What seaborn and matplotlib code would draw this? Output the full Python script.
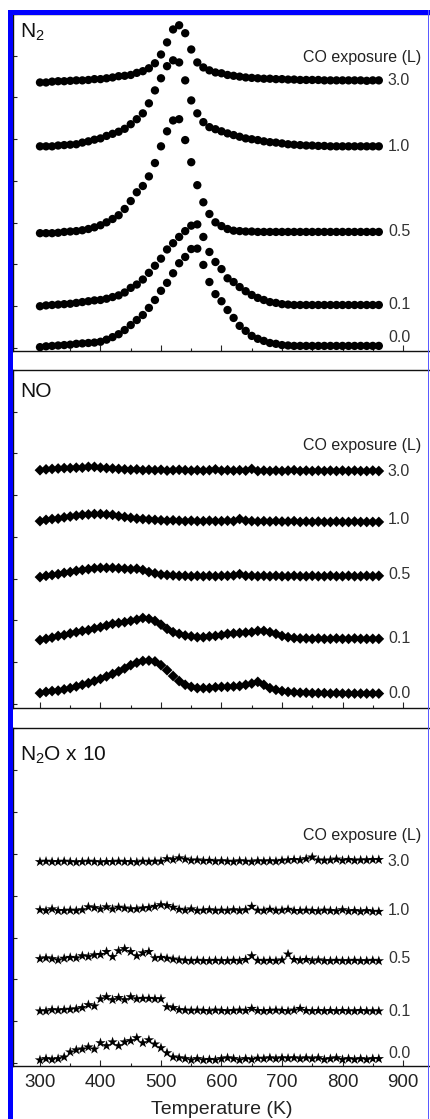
import numpy as np
import pandas as pd
import matplotlib
matplotlib.use("Agg")
import matplotlib.pyplot as plt
from matplotlib.patches import Rectangle
import seaborn as sns

# ---------------- data ----------------
temperature = np.arange(300, 861, 10)  # K
exposures = ["0.0", "0.1", "0.5", "1.0", "3.0"]

n2_00 = [0.02, 0.04, 0.05, 0.06, 0.07, 0.08, 0.10, 0.11, 0.12, 0.13,
         0.15, 0.20, 0.26, 0.33, 0.43, 0.55, 0.67, 0.79, 0.96, 1.15,
         1.37, 1.56, 1.79, 2.03, 2.18, 2.37, 2.38, 1.99, 1.58, 1.29,
         1.12, 0.91, 0.72, 0.53, 0.41, 0.29, 0.22, 0.17, 0.12, 0.10,
         0.07, 0.06, 0.05, 0.05, 0.05, 0.05, 0.05, 0.05, 0.05, 0.05,
         0.05, 0.05, 0.05, 0.05, 0.05, 0.05, 0.05]
n2_01 = [1.00, 1.02, 1.03, 1.04, 1.05, 1.06, 1.08, 1.10, 1.12, 1.14,
         1.15, 1.18, 1.22, 1.26, 1.33, 1.44, 1.52, 1.64, 1.80, 1.97,
         2.14, 2.36, 2.51, 2.66, 2.80, 2.93, 2.96, 2.66, 2.30, 2.06,
         1.89, 1.67, 1.58, 1.46, 1.36, 1.27, 1.20, 1.15, 1.10, 1.08,
         1.05, 1.04, 1.03, 1.03, 1.03, 1.03, 1.03, 1.03, 1.03, 1.03,
         1.03, 1.03, 1.03, 1.03, 1.03, 1.03, 1.03]
n2_05 = [2.75, 2.75, 2.75, 2.76, 2.78, 2.79, 2.80, 2.82, 2.85, 2.89,
         2.94, 3.01, 3.09, 3.18, 3.33, 3.52, 3.73, 3.88, 4.11, 4.43,
         4.83, 5.19, 5.45, 5.48, 4.98, 4.45, 3.90, 3.49, 3.21, 3.01,
         2.92, 2.85, 2.81, 2.80, 2.79, 2.79, 2.78, 2.78, 2.78, 2.78,
         2.78, 2.78, 2.78, 2.78, 2.78, 2.78, 2.78, 2.78, 2.78, 2.78,
         2.78, 2.78, 2.78, 2.78, 2.78, 2.78, 2.78]
n2_10 = [4.83, 4.83, 4.83, 4.85, 4.86, 4.87, 4.88, 4.92, 4.95, 4.99,
         5.02, 5.08, 5.13, 5.18, 5.25, 5.36, 5.48, 5.62, 5.86, 6.17,
         6.46, 6.75, 6.89, 6.84, 6.41, 5.93, 5.62, 5.41, 5.29, 5.24,
         5.19, 5.14, 5.10, 5.06, 5.02, 5.00, 4.98, 4.95, 4.93, 4.92,
         4.90, 4.88, 4.87, 4.86, 4.85, 4.85, 4.84, 4.84, 4.83, 4.83,
         4.83, 4.83, 4.83, 4.83, 4.83, 4.83, 4.83]
n2_30 = [6.36, 6.36, 6.38, 6.39, 6.39, 6.40, 6.41, 6.41, 6.42, 6.44,
         6.44, 6.46, 6.48, 6.51, 6.52, 6.54, 6.59, 6.63, 6.70, 6.82,
         7.03, 7.32, 7.63, 7.73, 7.54, 7.15, 6.84, 6.72, 6.65, 6.60,
         6.58, 6.54, 6.52, 6.50, 6.48, 6.47, 6.46, 6.45, 6.45, 6.44,
         6.44, 6.43, 6.43, 6.42, 6.42, 6.42, 6.42, 6.41, 6.41, 6.41,
         6.41, 6.41, 6.41, 6.41, 6.40, 6.41, 6.41]

no_00 = [0.26, 0.29, 0.31, 0.32, 0.35, 0.38, 0.42, 0.46, 0.50, 0.55,
         0.60, 0.66, 0.72, 0.78, 0.85, 0.93, 0.99, 1.03, 1.04, 1.02,
         0.93, 0.81, 0.67, 0.55, 0.46, 0.41, 0.38, 0.38, 0.38, 0.40,
         0.41, 0.41, 0.42, 0.43, 0.46, 0.49, 0.53, 0.46, 0.38, 0.34,
         0.31, 0.29, 0.28, 0.27, 0.27, 0.26, 0.26, 0.26, 0.25, 0.26,
         0.25, 0.25, 0.25, 0.25, 0.25, 0.25, 0.25]
no_01 = [1.53, 1.56, 1.59, 1.63, 1.65, 1.69, 1.72, 1.75, 1.77, 1.81,
         1.84, 1.88, 1.92, 1.94, 1.96, 1.99, 2.02, 2.06, 2.04, 1.99,
         1.90, 1.80, 1.72, 1.68, 1.64, 1.62, 1.60, 1.60, 1.62, 1.63,
         1.65, 1.68, 1.69, 1.70, 1.71, 1.72, 1.75, 1.75, 1.72, 1.68,
         1.63, 1.60, 1.58, 1.57, 1.57, 1.56, 1.57, 1.56, 1.56, 1.57,
         1.56, 1.56, 1.57, 1.56, 1.56, 1.56, 1.56]
no_05 = [3.04, 3.07, 3.09, 3.11, 3.14, 3.16, 3.19, 3.21, 3.23, 3.25,
         3.26, 3.26, 3.26, 3.25, 3.24, 3.23, 3.24, 3.21, 3.16, 3.13,
         3.10, 3.09, 3.08, 3.07, 3.07, 3.06, 3.07, 3.06, 3.07, 3.06,
         3.07, 3.07, 3.08, 3.11, 3.07, 3.07, 3.06, 3.07, 3.06, 3.07,
         3.06, 3.06, 3.07, 3.06, 3.06, 3.07, 3.06, 3.06, 3.07, 3.06,
         3.06, 3.07, 3.06, 3.06, 3.07, 3.06, 3.07]
no_10 = [4.38, 4.41, 4.43, 4.44, 4.47, 4.49, 4.51, 4.53, 4.54, 4.55,
         4.55, 4.54, 4.53, 4.50, 4.48, 4.46, 4.44, 4.43, 4.42, 4.41,
         4.40, 4.39, 4.40, 4.39, 4.38, 4.39, 4.38, 4.38, 4.39, 4.38,
         4.38, 4.39, 4.38, 4.43, 4.39, 4.38, 4.37, 4.38, 4.37, 4.38,
         4.37, 4.37, 4.38, 4.36, 4.37, 4.36, 4.37, 4.36, 4.36, 4.37,
         4.36, 4.36, 4.37, 4.36, 4.36, 4.36, 4.36]
no_30 = [5.60, 5.62, 5.63, 5.64, 5.65, 5.65, 5.66, 5.66, 5.68, 5.68,
         5.66, 5.65, 5.64, 5.63, 5.62, 5.61, 5.62, 5.60, 5.61, 5.60,
         5.61, 5.59, 5.60, 5.61, 5.60, 5.59, 5.60, 5.59, 5.60, 5.62,
         5.59, 5.60, 5.59, 5.60, 5.59, 5.63, 5.58, 5.59, 5.58, 5.59,
         5.58, 5.59, 5.60, 5.58, 5.59, 5.58, 5.59, 5.58, 5.59, 5.58,
         5.59, 5.58, 5.59, 5.58, 5.58, 5.59, 5.58]

n2o_00 = [0.07, 0.10, 0.08, 0.10, 0.14, 0.26, 0.31, 0.33, 0.38, 0.33,
          0.48, 0.41, 0.50, 0.41, 0.50, 0.53, 0.60, 0.48, 0.55, 0.45,
          0.36, 0.24, 0.14, 0.12, 0.10, 0.07, 0.10, 0.07, 0.08, 0.07,
          0.10, 0.12, 0.10, 0.07, 0.10, 0.08, 0.11, 0.10, 0.12, 0.10,
          0.12, 0.11, 0.12, 0.10, 0.12, 0.10, 0.12, 0.08, 0.10, 0.12,
          0.08, 0.10, 0.08, 0.10, 0.08, 0.10, 0.10]
n2o_01 = [1.24, 1.24, 1.27, 1.26, 1.27, 1.28, 1.29, 1.32, 1.39, 1.36,
          1.53, 1.58, 1.51, 1.56, 1.51, 1.58, 1.53, 1.54, 1.54, 1.53,
          1.53, 1.34, 1.32, 1.27, 1.26, 1.25, 1.26, 1.25, 1.24, 1.26,
          1.25, 1.24, 1.25, 1.26, 1.25, 1.30, 1.25, 1.24, 1.25, 1.26,
          1.25, 1.24, 1.26, 1.30, 1.25, 1.24, 1.25, 1.24, 1.25, 1.24,
          1.25, 1.24, 1.24, 1.25, 1.24, 1.24, 1.24]
n2o_05 = [2.49, 2.51, 2.49, 2.46, 2.50, 2.52, 2.51, 2.56, 2.54, 2.58,
          2.59, 2.66, 2.54, 2.68, 2.73, 2.66, 2.56, 2.63, 2.66, 2.51,
          2.52, 2.50, 2.48, 2.46, 2.45, 2.44, 2.45, 2.44, 2.44, 2.45,
          2.44, 2.44, 2.45, 2.44, 2.47, 2.56, 2.45, 2.44, 2.45, 2.44,
          2.46, 2.60, 2.47, 2.45, 2.47, 2.44, 2.46, 2.44, 2.44, 2.45,
          2.44, 2.44, 2.45, 2.44, 2.44, 2.45, 2.44]
n2o_10 = [3.66, 3.64, 3.68, 3.64, 3.64, 3.65, 3.64, 3.66, 3.73, 3.71,
          3.68, 3.73, 3.68, 3.72, 3.70, 3.68, 3.68, 3.70, 3.71, 3.74,
          3.78, 3.76, 3.72, 3.67, 3.65, 3.68, 3.64, 3.65, 3.66, 3.64,
          3.65, 3.64, 3.66, 3.64, 3.66, 3.74, 3.65, 3.64, 3.67, 3.64,
          3.65, 3.67, 3.64, 3.64, 3.65, 3.64, 3.63, 3.65, 3.64, 3.63,
          3.66, 3.63, 3.64, 3.62, 3.64, 3.62, 3.62]
n2o_30 = [4.81, 4.82, 4.81, 4.81, 4.82, 4.81, 4.80, 4.81, 4.82, 4.81,
          4.80, 4.81, 4.81, 4.82, 4.81, 4.81, 4.80, 4.82, 4.81, 4.82,
          4.82, 4.88, 4.86, 4.90, 4.87, 4.84, 4.85, 4.83, 4.84, 4.82,
          4.83, 4.82, 4.81, 4.83, 4.82, 4.81, 4.83, 4.82, 4.83, 4.82,
          4.84, 4.85, 4.86, 4.85, 4.88, 4.92, 4.85, 4.84, 4.85, 4.87,
          4.84, 4.86, 4.84, 4.85, 4.85, 4.86, 4.86]

# label positions for the exposure numbers (value units of each panel)
n2_label_y = [0.26, 1.03, 2.78, 4.83, 6.41]
no_label_y = [0.26, 1.58, 3.09, 4.43, 5.58]
n2o_label_y = [0.22, 1.24, 2.49, 3.64, 4.81]

panel_titles = ["N$_2$", "NO", "N$_2$O x 10"]
xticks_major = [300, 400, 500, 600, 700, 800, 900]
xticks_minor = [350, 450, 550, 650, 750, 850]

# ---------------- style ----------------
sns.set_style("ticks")
plt.rcParams["font.family"] = ["Liberation Sans", "DejaVu Sans"]
plt.rcParams["mathtext.default"] = "regular"

W, H = 430, 1119
fig = plt.figure(figsize=(W / 100, H / 100), dpi=100)

def fx(px):
    return px / W

def fy(py):
    return 1 - py / H

left = 13
right = 430
panels_px = [(14, 351), (370, 708), (728, 1066)]
ylims = [(-0.072, 7.99), (-0.096, 8.0), (-0.072, 8.01)]
xlim = (255.4, 944.6)

datasets = [
    ([n2_00, n2_01, n2_05, n2_10, n2_30], "o", 36, n2_label_y),
    ([no_00, no_01, no_05, no_10, no_30], "D", 30, no_label_y),
    ([n2o_00, n2o_01, n2o_05, n2o_10, n2o_30], "*", 62, n2o_label_y),
]
co_label_y = [6.96, 6.20, 5.45]
title_top = [0.976, 0.964, 0.952]

axes = []
for i, ((top, bot), (series, mk, size, lab_y)) in enumerate(zip(panels_px, datasets)):
    ax = fig.add_axes([fx(left), fy(bot), fx(right - left), (bot - top) / H])
    axes.append(ax)
    frames = []
    for exp, vals in zip(exposures, series):
        frames.append(pd.DataFrame({"T": temperature, "v": vals, "exposure": exp}))
    df = pd.concat(frames, ignore_index=True)
    sns.scatterplot(data=df, x="T", y="v", hue="exposure",
                    palette=["black"] * len(exposures), marker=mk, s=size,
                    edgecolor="none", linewidth=0, legend=False, ax=ax)
    ax.set_xlim(*xlim)
    ax.set_ylim(*ylims[i])
    ax.set_xticks(xticks_major)
    ax.set_xticks(xticks_minor, minor=True)
    ax.set_yticks(range(0, 9))
    ax.set_yticklabels([])
    ax.tick_params(axis="both", which="both", direction="in", top=False, right=False)
    ax.tick_params(axis="x", which="major", length=4.5, width=0.8)
    ax.tick_params(axis="x", which="minor", length=2.2, width=0.8)
    ax.tick_params(axis="y", which="major", length=3, width=0.8)
    ax.spines["right"].set_visible(False)
    for sp in ["top", "bottom", "left"]:
        ax.spines[sp].set_linewidth(1.0)
        ax.spines[sp].set_color("#111111")
    ax.set_ylabel("")
    if i < 2:
        ax.set_xticklabels([])
        ax.set_xlabel("")
    else:
        ax.tick_params(axis="x", which="major", labelsize=13.5, pad=6, labelcolor="#222222")
        ax.set_xlabel("Temperature (K)", fontsize=14, labelpad=7, color="#222222")
    for exp, yv in zip(exposures, lab_y):
        ax.text(875, yv, exp, fontsize=11.5, color="#333333", va="center", ha="left")
    ax.text(930, co_label_y[i], "CO exposure (L)", fontsize=11.5, color="#222222",
            va="center", ha="right")
    ax.text(0.017, title_top[i], panel_titles[i], transform=ax.transAxes,
            fontsize=15, va="top", ha="left", color="#111111")

# blue frame
blue = "#0000ff"
fig.add_artist(Rectangle((fx(8), 0), fx(5), fy(10), facecolor=blue, edgecolor="none",
                         transform=fig.transFigure, zorder=20))
fig.add_artist(Rectangle((fx(8), fy(15)), fx(W - 8), 5 / H, facecolor=blue, edgecolor="none",
                         transform=fig.transFigure, zorder=20))
fig.add_artist(Rectangle((fx(427.5), 0), fx(1.2), fy(10), facecolor="#5a5aff", edgecolor="none",
                         transform=fig.transFigure, zorder=20))

fig.savefig("out.png", dpi=100)
